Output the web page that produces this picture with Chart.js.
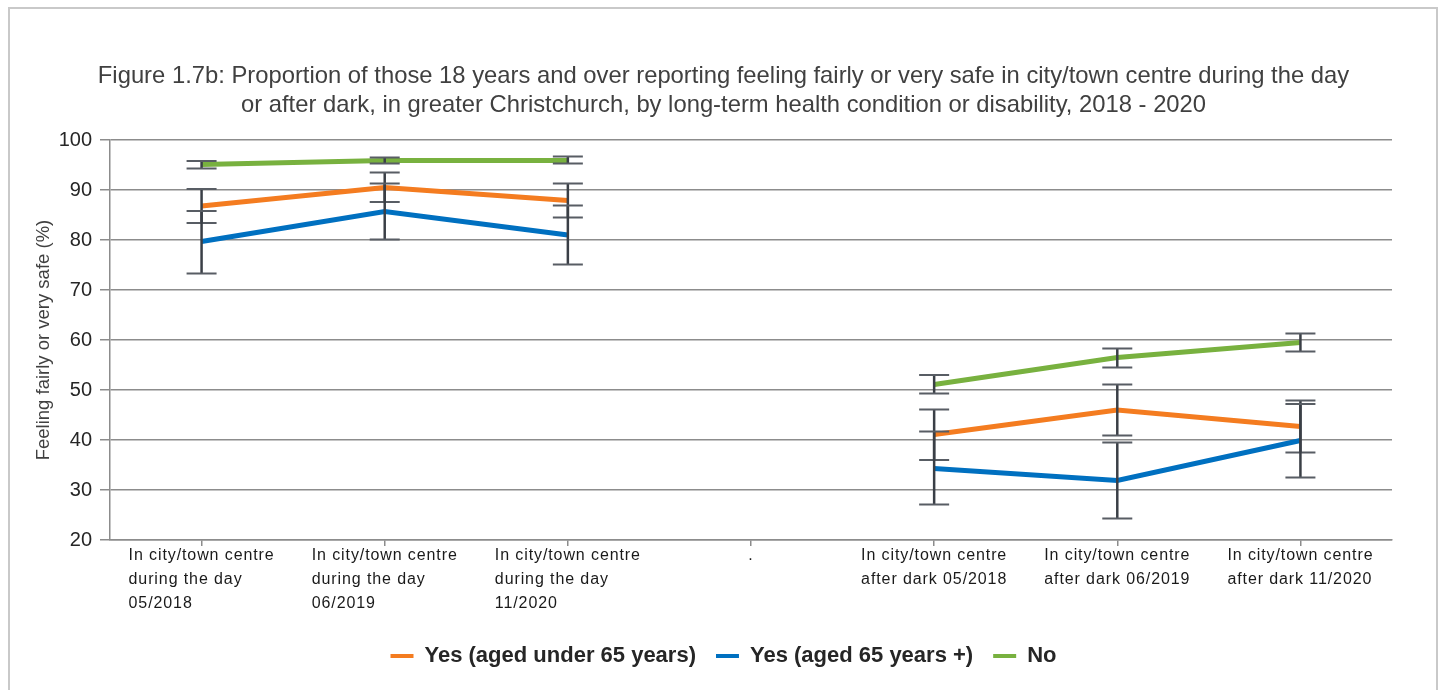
<!DOCTYPE html>
<html>
<head>
<meta charset="utf-8">
<script src="https://cdn.jsdelivr.net/npm/chart.js@4.4.1/dist/chart.umd.min.js"></script>
<style>
  html, body { margin: 0; padding: 0; background: #fff; }
  #wrap { position: relative; width: 1441px; height: 690px; overflow: hidden; }
  #frame { position: absolute; left: 8px; top: 7px; width: 1430px; height: 720px; border: 2px solid #c9c9c9; box-sizing: border-box; }
  canvas { position: absolute; left: 0; top: 0; }
</style>
</head>
<body>
<div id="wrap">
  <div id="frame"></div>
  <canvas id="chart" width="1441" height="690"></canvas>
</div>
<script>
const FONT = 'Arial, "Liberation Sans", sans-serif';

const titleLines = [
  "Figure 1.7b: Proportion of those 18 years and over reporting feeling fairly or very safe in city/town centre during the day",
  "or after dark, in greater Christchurch, by long-term health condition or disability, 2018 - 2020"
];
const yTitle = "Feeling fairly or very safe (%)";

const categories = [
  ["In city/town centre", "during the day", "05/2018"],
  ["In city/town centre", "during the day", "06/2019"],
  ["In city/town centre", "during the day", "11/2020"],
  ".",
  ["In city/town centre", "after dark 05/2018"],
  ["In city/town centre", "after dark 06/2019"],
  ["In city/town centre", "after dark 11/2020"]
];

// values with 95% confidence interval ends
const under65 = [86.8, 90.5, 87.9, null, 41.1, 46.0, 42.7];
const under65Low = [83.4, 87.6, 84.5, null, 36.0, 40.9, 37.5];
const under65High = [90.2, 93.5, 91.3, null, 46.1, 51.1, 47.9];

const over65 = [79.7, 85.7, 81.0, null, 34.3, 31.9, 39.9];
const over65Low = [73.3, 80.1, 75.1, null, 27.1, 24.3, 32.5];
const over65High = [85.8, 91.3, 86.9, null, 41.7, 39.5, 47.2];

const noCondition = [95.1, 95.9, 95.9, null, 51.1, 56.5, 59.5];
const noConditionLow = [94.3, 95.3, 95.3, null, 49.3, 54.5, 57.7];
const noConditionHigh = [95.8, 96.5, 96.7, null, 53.0, 58.3, 61.3];

const yTicks = [20, 30, 40, 50, 60, 70, 80, 90, 100];

// draws the error bars on top of the lines
const errorBars = {
  id: "errorBars",
  afterDatasetsDraw(chart) {
    const ctx = chart.ctx;
    const yScale = chart.scales.y;
    ctx.save();
    chart.data.datasets.forEach((ds, i) => {
      const meta = chart.getDatasetMeta(i);
      meta.data.forEach((pt, j) => {
        const lo = ds.errLow[j];
        const hi = ds.errHigh[j];
        if (lo == null || hi == null) return;
        const x = pt.x;
        const yLo = yScale.getPixelForValue(lo);
        const yHi = yScale.getPixelForValue(hi);
        ctx.strokeStyle = "#3a3f46";
        ctx.lineWidth = 2.5;
        ctx.beginPath();
        ctx.moveTo(x, yHi);
        ctx.lineTo(x, yLo);
        ctx.stroke();
        ctx.strokeStyle = "#585d64";
        ctx.lineWidth = 2;
        ctx.beginPath();
        ctx.moveTo(x - 15, yHi);
        ctx.lineTo(x + 15, yHi);
        ctx.moveTo(x - 15, yLo);
        ctx.lineTo(x + 15, yLo);
        ctx.stroke();
      });
    });
    ctx.restore();
  }
};

// category labels: block centred on the tick, lines left aligned
const xLabels = {
  id: "xLabels",
  afterDraw(chart) {
    const ctx = chart.ctx;
    const xs = chart.scales.x;
    ctx.save();
    ctx.font = "16px " + FONT;
    ctx.letterSpacing = "0.9px";
    ctx.fillStyle = "#1a1a1a";
    ctx.textAlign = "left";
    ctx.textBaseline = "middle";
    categories.forEach((lab, i) => {
      const lines = Array.isArray(lab) ? lab : [lab];
      const w = Math.max(...lines.map((l) => ctx.measureText(l).width));
      const x0 = xs.getPixelForValue(i) - w / 2;
      lines.forEach((l, k) => ctx.fillText(l, x0, xs.top + 16 + k * 24));
    });
    ctx.restore();
  }
};

const lineStyle = {
  borderWidth: 5,
  pointRadius: 0,
  pointHoverRadius: 0,
  spanGaps: false,
  tension: 0,
  borderJoinStyle: "miter",
  borderCapStyle: "butt"
};

new Chart(document.getElementById("chart"), {
  type: "line",
  data: {
    labels: categories,
    datasets: [
      {
        ...lineStyle,
        label: "Yes (aged under 65 years)",
        data: under65,
        errLow: under65Low,
        errHigh: under65High,
        borderColor: "#f47c20",
        backgroundColor: "#f47c20"
      },
      {
        ...lineStyle,
        label: "Yes (aged 65 years +)",
        data: over65,
        errLow: over65Low,
        errHigh: over65High,
        borderColor: "#0070c0",
        backgroundColor: "#0070c0"
      },
      {
        ...lineStyle,
        label: "No",
        data: noCondition,
        errLow: noConditionLow,
        errHigh: noConditionHigh,
        borderColor: "#78b13f",
        backgroundColor: "#78b13f"
      }
    ]
  },
  options: {
    responsive: false,
    animation: false,
    devicePixelRatio: 1,
    events: [],
    layout: { padding: { left: 6, right: 0, top: 62, bottom: 13 } },
    plugins: {
      title: {
        display: true,
        text: titleLines,
        color: "#404040",
        font: { family: FONT, size: 23.8, weight: "normal", lineHeight: 1.22 },
        padding: { top: 0, bottom: 20 }
      },
      legend: {
        position: "bottom",
        labels: {
          boxWidth: 23,
          boxHeight: 4,
          padding: 20,
          color: "#262626",
          font: { family: FONT, size: 22, weight: "bold" },
          generateLabels(chart) {
            return Chart.defaults.plugins.legend.labels
              .generateLabels(chart)
              .map((l) => ({ ...l, lineWidth: 0 }));
          }
        }
      },
      tooltip: { enabled: false }
    },
    scales: {
      x: {
        type: "category",
        offset: true,
        grid: { drawOnChartArea: false, drawTicks: true, tickLength: 6, color: "#8c8c8c", lineWidth: 1.5 },
        border: { display: true, color: "#8c8c8c", width: 1.5 },
        ticks: { display: false, autoSkip: false },
        afterFit(s) {
          s.height = 85;
          s.paddingLeft = 0;
          s.paddingRight = 0;
        }
      },
      y: {
        min: yTicks[0],
        max: yTicks[yTicks.length - 1],
        afterBuildTicks(s) {
          s.ticks = yTicks.map((v) => ({ value: v }));
        },
        ticks: { font: { family: FONT, size: 20 }, color: "#262626", padding: 8 },
        grid: { color: "#8c8c8c", lineWidth: 1.5, tickLength: 10 },
        border: { color: "#8c8c8c", width: 1.5 },
        title: {
          display: true,
          text: yTitle,
          color: "#404040",
          font: { family: FONT, size: 18.5 },
          padding: { top: 27, bottom: 0 }
        },
        afterFit(s) {
          s.width = 104;
        }
      },
      yRight: {
        position: "right",
        grid: { display: false },
        border: { display: false },
        ticks: { display: false },
        afterFit(s) {
          s.width = 49;
        }
      }
    }
  },
  plugins: [errorBars, xLabels]
});
</script>
</body>
</html>
